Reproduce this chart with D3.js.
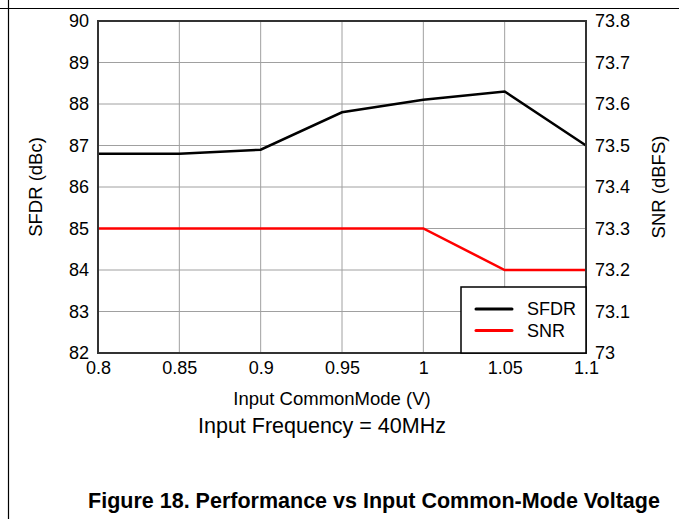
<!DOCTYPE html>
<html>
<head>
<meta charset="utf-8">
<script src="https://cdn.jsdelivr.net/npm/d3@7"></script>
<style>
  body { margin: 0; background: #fff; }
  text { font-family: "Liberation Sans", Arial, sans-serif; fill: #000; }
</style>
</head>
<body>
<div id="chart"></div>
<script>
const voltage = [0.8, 0.85, 0.9, 0.95, 1.0, 1.05, 1.1];
const sfdr = [86.8, 86.8, 86.9, 87.8, 88.1, 88.3, 87.0];
const snr = [73.3, 73.3, 73.3, 73.3, 73.3, 73.2, 73.2];
const xTicks = [0.8, 0.85, 0.9, 0.95, 1, 1.05, 1.1];
const leftTicks = [82, 83, 84, 85, 86, 87, 88, 89, 90];
const rightTicks = [73, 73.1, 73.2, 73.3, 73.4, 73.5, 73.6, 73.7, 73.8];

const width = 679, height = 519;
const m = { left: 98, right: 586, top: 21, bottom: 353 };

const svg = d3.select("#chart").append("svg")
    .attr("width", width)
    .attr("height", height);

// page frame lines
svg.append("line").attr("x1", 0).attr("x2", width).attr("y1", 8.5).attr("y2", 8.5)
    .attr("stroke", "#000").attr("stroke-width", 1.2);
svg.append("line").attr("x1", 8.5).attr("x2", 8.5).attr("y1", 0).attr("y2", height)
    .attr("stroke", "#000").attr("stroke-width", 1.2);

const x = d3.scaleLinear().domain([0.8, 1.1]).range([m.left, m.right]);
const yL = d3.scaleLinear().domain([82, 90]).range([m.bottom, m.top]);
const yR = d3.scaleLinear().domain([73, 73.8]).range([m.bottom, m.top]);

// grid
svg.append("g").selectAll("line").data(xTicks).join("line")
    .attr("x1", d => x(d)).attr("x2", d => x(d))
    .attr("y1", m.top).attr("y2", m.bottom)
    .attr("stroke", "#a0a0a0").attr("stroke-width", 1);
svg.append("g").selectAll("line").data(leftTicks).join("line")
    .attr("x1", m.left).attr("x2", m.right)
    .attr("y1", d => yL(d)).attr("y2", d => yL(d))
    .attr("stroke", "#a0a0a0").attr("stroke-width", 1);

// axes (labels only)
const fmt = d => String(+d.toFixed(2));
const xAxis = svg.append("g")
    .attr("transform", `translate(0,${m.bottom})`)
    .call(d3.axisBottom(x).tickValues(xTicks).tickFormat(fmt).tickSize(0).tickPadding(8));
const lAxis = svg.append("g")
    .attr("transform", `translate(${m.left},0)`)
    .call(d3.axisLeft(yL).tickValues(leftTicks).tickSize(0).tickPadding(9));
const rAxis = svg.append("g")
    .attr("transform", `translate(${m.right},0)`)
    .call(d3.axisRight(yR).tickValues(rightTicks).tickFormat(fmt).tickSize(0).tickPadding(9));
[xAxis, lAxis, rAxis].forEach(g => {
    g.select(".domain").remove();
    g.attr("font-size", 18).attr("font-family", "Liberation Sans, Arial, sans-serif");
    g.selectAll("text").attr("fill", "#000");
});

// lines
const lineL = d3.line().x((d, i) => x(voltage[i])).y(d => yL(d));
const lineR = d3.line().x((d, i) => x(voltage[i])).y(d => yR(d));
svg.append("path").datum(snr).attr("d", lineR)
    .attr("fill", "none").attr("stroke", "#ff0000").attr("stroke-width", 2.5);
svg.append("path").datum(sfdr).attr("d", lineL)
    .attr("fill", "none").attr("stroke", "#000").attr("stroke-width", 2.5);

// plot border
svg.append("rect")
    .attr("x", m.left).attr("y", m.top)
    .attr("width", m.right - m.left).attr("height", m.bottom - m.top)
    .attr("fill", "none").attr("stroke", "#333").attr("stroke-width", 2);

// legend
const lg = svg.append("g");
lg.append("rect").attr("x", 461).attr("y", 287).attr("width", m.right - 461).attr("height", m.bottom - 287)
    .attr("fill", "#fff").attr("stroke", "#000").attr("stroke-width", 1.5);
const legendItems = [{ name: "SFDR", color: "#000" }, { name: "SNR", color: "#ff0000" }];
legendItems.forEach((d, i) => {
    const yy = 309 + i * 21.5;
    lg.append("line").attr("x1", 476).attr("x2", 512).attr("y1", yy).attr("y2", yy)
        .attr("stroke", d.color).attr("stroke-width", 3).attr("stroke-linecap", "round");
    lg.append("text").attr("x", 527).attr("y", yy).attr("dy", "0.35em")
        .attr("font-size", 18).text(d.name);
});

// axis titles
svg.append("text")
    .attr("transform", `translate(42,${(m.top + m.bottom) / 2}) rotate(-90)`)
    .attr("text-anchor", "middle").attr("font-size", 18.5).text("SFDR (dBc)");
svg.append("text")
    .attr("transform", `translate(665,${(m.top + m.bottom) / 2}) rotate(-90)`)
    .attr("text-anchor", "middle").attr("font-size", 18.5).text("SNR (dBFS)");
svg.append("text")
    .attr("x", 332).attr("y", 405)
    .attr("text-anchor", "middle").attr("font-size", 18.5).text("Input CommonMode (V)");
svg.append("text")
    .attr("x", 322).attr("y", 433)
    .attr("text-anchor", "middle").attr("font-size", 21.5).text("Input Frequency = 40MHz");
svg.append("text")
    .attr("x", 374).attr("y", 508)
    .attr("text-anchor", "middle").attr("font-size", 21.5).attr("font-weight", "bold")
    .text("Figure 18. Performance vs Input Common-Mode Voltage");
</script>
</body>
</html>
